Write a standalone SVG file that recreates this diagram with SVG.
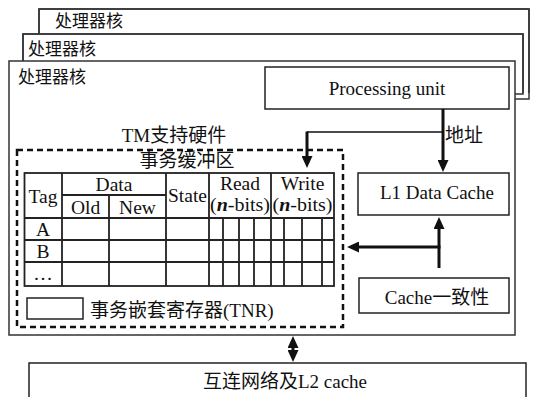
<svg xmlns="http://www.w3.org/2000/svg" width="535" height="397" viewBox="0 0 535 397">
<style>
.frame{fill:#fff;stroke:#333;stroke-width:1.5}
.edge{fill:none;stroke:#333;stroke-width:1.5}
.box{fill:#fff;stroke:#222;stroke-width:1.5}
.cn{font-family:"Liberation Serif","Noto Sans CJK SC",serif;font-size:17px;fill:#111}
.lt{font-family:"Liberation Serif","Noto Sans CJK SC",serif;font-size:19px;fill:#111}
.th{font-family:"Liberation Serif","Noto Sans CJK SC",serif;font-size:19.5px;fill:#111;text-anchor:middle}
.grid{stroke:#222;stroke-width:1.8;fill:none}
.conn{stroke:#111;stroke-width:3;fill:none}
.thin{stroke:#111;stroke-width:1.5;fill:none}
</style>
<defs>
<marker id="ah" markerUnits="userSpaceOnUse" markerWidth="12" markerHeight="11" viewBox="0 0 12 11" refX="8" refY="5.5" orient="auto-start-reverse">
<path d="M0,0 L12,5.5 L0,11 z" fill="#111"/>
</marker>
</defs>
<rect width="535" height="397" fill="#fff"/>

<g id="core3">
<rect class="frame" x="39" y="9" width="490" height="90" stroke="none"/>
<path class="edge" d="M39,34 V9 H529 V93"/>
<text class="cn" x="55" y="27">处理器核</text>
</g>
<g id="core2">
<rect class="frame" x="23" y="34" width="500" height="60" stroke="none"/>
<path class="edge" d="M23,61 V34 H523 V93"/>
<text class="cn" x="28" y="55">处理器核</text>
</g>
<g id="core1">
<rect class="frame" x="9" y="61" width="506" height="274"/>
<text class="cn" x="18" y="83">处理器核</text>
</g>

<g id="processing-unit">
<rect class="box" x="265" y="67" width="244" height="42"/>
<text class="lt" x="387" y="95" text-anchor="middle">Processing unit</text>
</g>

<g id="l1-cache">
<rect class="box" x="358" y="173" width="151" height="42"/>
<text class="lt" x="437" y="199" text-anchor="middle">L1 Data Cache</text>
</g>

<g id="coherence">
<rect class="box" x="359" y="278" width="150" height="35"/>
<text class="lt" x="437" y="304" text-anchor="middle">Cache一致性</text>
</g>

<g id="tm-hardware">
<text class="lt" x="174" y="142" text-anchor="middle">TM支持硬件</text>
<rect x="17" y="150" width="326" height="177" fill="none" stroke="#111" stroke-width="2.5" stroke-dasharray="6 4"/>
<text class="lt" x="187" y="167" text-anchor="middle">事务缓冲区</text>
</g>

<g id="buffer-table">
<rect class="grid" x="24.5" y="173" width="309.5" height="113"/>
<path class="grid" d="M62,173 V286 M166,173 V286 M209,173 V286 M271,173 V286 M109,195 V286 M223,218 V286 M239,218 V286 M254,218 V286 M284,218 V286 M302,218 V286 M322,218 V286 M62,195 H166 M24.5,218 H334 M24.5,240 H334 M24.5,262 H334"/>
<text class="th" x="43" y="203">Tag</text>
<text class="th" x="114" y="191">Data</text>
<text class="th" x="85.5" y="214">Old</text>
<text class="th" x="137.5" y="214">New</text>
<text class="th" x="187.5" y="202">State</text>
<text class="th" x="240" y="190">Read</text>
<text class="th" x="240" y="211" textLength="60" lengthAdjust="spacingAndGlyphs">(<tspan font-style="italic" font-weight="bold">n</tspan>-bits)</text>
<text class="th" x="302.5" y="190">Write</text>
<text class="th" x="302.5" y="211" textLength="60" lengthAdjust="spacingAndGlyphs">(<tspan font-style="italic" font-weight="bold">n</tspan>-bits)</text>
<text class="th" x="43" y="236">A</text>
<text class="th" x="43" y="258">B</text>
<text class="th" x="43" y="280">…</text>
</g>

<g id="tnr">
<rect class="box" x="27" y="298" width="56" height="21"/>
<text class="lt" x="90" y="317">事务嵌套寄存器(TNR)</text>
</g>

<g id="interconnect">
<rect class="box" x="29" y="363" width="497" height="40"/>
<text class="lt" x="285" y="388" text-anchor="middle">互连网络及L2 cache</text>
</g>

<g id="connectors">
<line class="conn" x1="443" y1="109" x2="443" y2="168" marker-end="url(#ah)"/>
<text class="lt" x="445" y="142">地址</text>
<line class="thin" x1="443" y1="132" x2="307" y2="132"/>
<line class="conn" x1="307" y1="131.5" x2="307" y2="164" marker-end="url(#ah)"/>
<line class="conn" x1="439" y1="268" x2="439" y2="221" marker-end="url(#ah)"/>
<line class="conn" x1="440.5" y1="247" x2="351" y2="247" marker-end="url(#ah)"/>
<line class="conn" x1="293" y1="340" x2="293" y2="358" marker-start="url(#ah)" marker-end="url(#ah)"/>
</g>
</svg>
